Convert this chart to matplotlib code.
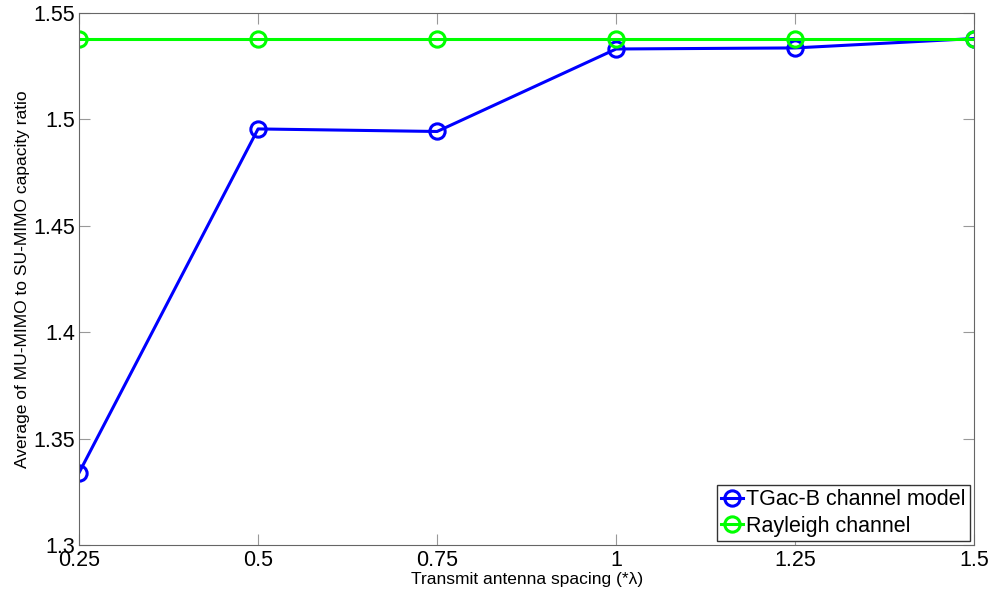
import matplotlib
matplotlib.use("Agg")
import matplotlib.pyplot as plt

plt.rcParams['font.family'] = ['Liberation Sans', 'DejaVu Sans']

spacing = [0.25, 0.5, 0.75, 1.0, 1.25, 1.5]
tgac = [1.3341, 1.4954, 1.4942, 1.5329, 1.5334, 1.5378]
rayleigh = [1.5378, 1.5378, 1.5378, 1.5378, 1.5378, 1.5378]

fig = plt.figure(figsize=(9.93, 5.97), dpi=100)
ax = fig.add_axes([0.0796, 0.0863, 0.9014, 0.8927])

ax.plot(spacing, tgac, color='#0000ff', lw=2.2, marker='o', ms=11,
        mfc='none', mew=2.2, label='TGac-B channel model')
ax.plot(spacing, rayleigh, color='#00ff00', lw=2.2, marker='o', ms=11,
        mfc='none', mew=2.2, label='Rayleigh channel')

ax.set_xlim(0.25, 1.5)
ax.set_ylim(1.3, 1.55)
ax.set_xticks(spacing)
ax.set_xticklabels(['0.25', '0.5', '0.75', '1', '1.25', '1.5'])
ax.set_yticks([1.3, 1.35, 1.4, 1.45, 1.5, 1.55])
ax.set_yticklabels(['1.3', '1.35', '1.4', '1.45', '1.5', '1.55'])
ax.tick_params(direction='in', length=8, color='#999999', labelsize=15.5,
               top=True, right=True, pad=3)
for s in ax.spines.values():
    s.set_color('#666666')

ax.set_xlabel('Transmit antenna spacing (*λ)', fontsize=12.5, labelpad=1)
ax.set_ylabel('Average of MU-MIMO to SU-MIMO capacity ratio', fontsize=12.5, labelpad=2)

leg = ax.legend(loc='lower right', fontsize=15.5, handlelength=1.0, handletextpad=0.15,
                borderpad=0.2, labelspacing=0.25, borderaxespad=0.2, fancybox=False,
                framealpha=1)
leg.get_frame().set_edgecolor('#333333')
leg.get_frame().set_linewidth(1)

fig.savefig('out.png', dpi=100)
